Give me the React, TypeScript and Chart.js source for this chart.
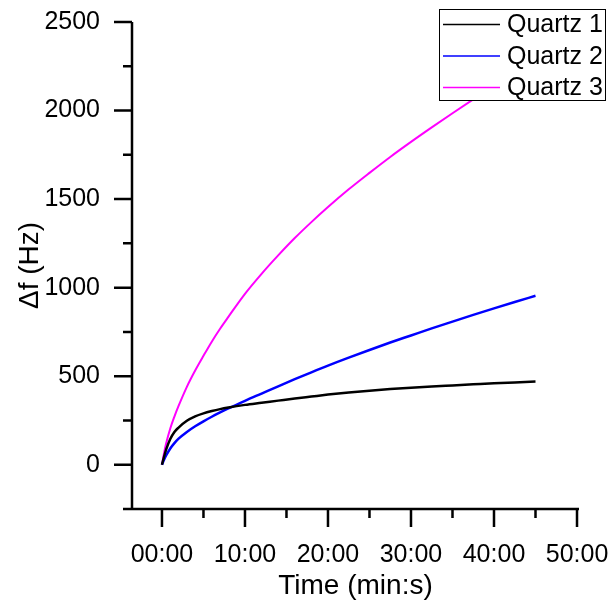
import React, { useEffect, useRef } from "react";
import { Chart, registerables } from "chart.js";

Chart.register(...registerables);

// Elapsed time in minutes
const timeMin = [0, 0.25, 0.5, 1, 1.5, 2, 3, 4, 5, 6, 7, 8, 10, 12, 14, 16, 18, 20, 22.5, 25, 27.5, 30, 32.5, 35, 37.5, 40, 42.5, 45];
// Frequency shift (Hz) for each crystal
const quartz1 = [0, 45, 85, 145, 185, 210, 248, 273, 290, 303, 314, 323, 338, 350, 362, 374, 385, 396, 408, 418, 427, 435, 442, 448, 454, 460, 465, 470];
const quartz2 = [0, 28, 52, 92, 122, 147, 185, 217, 245, 271, 295, 318, 361, 402, 443, 483, 522, 560, 605, 648, 690, 730, 770, 808, 846, 883, 919, 954];
const quartz3 = [0, 65, 120, 205, 272, 332, 440, 532, 615, 695, 768, 835, 965, 1078, 1182, 1280, 1370, 1455, 1555, 1648, 1738, 1823, 1905, 1985, 2063, 2140, 2215, 2288];

const seriesNames = ["Quartz 1", "Quartz 2", "Quartz 3"];
const seriesColors = ["#000000", "#0000ff", "#ff00ff"];

const xMajorTicks = [0, 10, 20, 30, 40, 50];
const xMinorTicks = [5, 15, 25, 35, 45];
const yMajorTicks = [0, 500, 1000, 1500, 2000, 2500];
const yMinorTicks = [-250, 250, 750, 1250, 1750, 2250];

const FONT = "'Liberation Sans', Arial, Helvetica, sans-serif";

const fmtTime = (v: number) => `${String(Math.round(v)).padStart(2, "0")}:00`;

// Left/bottom axes with outward major and minor ticks, plus a boxed legend
const axesPlugin = {
  id: "outwardAxes",
  beforeDatasetsDraw(chart: any) {
    const { ctx, chartArea, scales } = chart;
    const xs = scales.x;
    const ys = scales.y;
    const axisX = chartArea.left;
    const axisY = chartArea.bottom;
    ctx.save();
    ctx.strokeStyle = "#000";
    ctx.lineWidth = 2.5;
    ctx.lineCap = "butt";
    ctx.beginPath();
    ctx.moveTo(axisX, chartArea.top);
    ctx.lineTo(axisX, axisY + 1.25);
    ctx.moveTo(axisX - 1.25, axisY);
    ctx.lineTo(chartArea.right, axisY);
    for (const v of yMajorTicks) {
      const p = ys.getPixelForValue(v);
      ctx.moveTo(axisX, p);
      ctx.lineTo(axisX - 18, p);
    }
    for (const v of yMinorTicks) {
      const p = ys.getPixelForValue(v);
      ctx.moveTo(axisX, p);
      ctx.lineTo(axisX - 9, p);
    }
    for (const v of xMajorTicks) {
      const p = xs.getPixelForValue(v);
      ctx.moveTo(p, axisY);
      ctx.lineTo(p, axisY + 18);
    }
    for (const v of xMinorTicks) {
      const p = xs.getPixelForValue(v);
      ctx.moveTo(p, axisY);
      ctx.lineTo(p, axisY + 9);
    }
    ctx.stroke();
    ctx.restore();
  },
  afterDatasetsDraw(chart: any) {
    const { ctx } = chart;
    const box = { x: 439.5, y: 9.5, w: 166, h: 91 };
    const rows = [24.5, 56, 87.5];
    ctx.save();
    ctx.fillStyle = "#fff";
    ctx.fillRect(box.x, box.y, box.w, box.h);
    ctx.strokeStyle = "#000";
    ctx.lineWidth = 1;
    ctx.strokeRect(box.x, box.y, box.w, box.h);
    chart.data.datasets.forEach((ds: any, i: number) => {
      const y = rows[i];
      ctx.strokeStyle = ds.borderColor;
      ctx.lineWidth = 1.5;
      ctx.beginPath();
      ctx.moveTo(443, y);
      ctx.lineTo(500, y);
      ctx.stroke();
      ctx.fillStyle = "#000";
      ctx.font = `25px ${FONT}`;
      ctx.textAlign = "left";
      ctx.textBaseline = "middle";
      ctx.fillText(ds.label, 507, y + 1);
    });
    ctx.restore();
  },
};

export default function App() {
  const canvasRef = useRef<HTMLCanvasElement>(null);

  useEffect(() => {
    const canvas = canvasRef.current;
    if (!canvas) return;
    const series = [quartz1, quartz2, quartz3];
    const chart = new Chart(canvas, {
      type: "line",
      data: {
        datasets: series.map((vals, i) => ({
          label: seriesNames[i],
          data: timeMin.map((t, j) => ({ x: t, y: vals[j] })),
          borderColor: seriesColors[i],
          backgroundColor: seriesColors[i],
          borderWidth: i === 2 ? 2 : 2.5,
          pointRadius: 0,
          cubicInterpolationMode: "monotone" as const,
          fill: false,
        })),
      },
      options: {
        responsive: false,
        animation: false,
        devicePixelRatio: 1,
        layout: { padding: { left: 0, right: 31, top: 22, bottom: 0 } },
        plugins: {
          legend: { display: false },
          tooltip: { enabled: false },
        },
        scales: {
          x: {
            type: "linear",
            min: -3.61,
            max: 50.24,
            afterBuildTicks: (s: any) => {
              s.ticks = xMajorTicks.map((v) => ({ value: v }));
            },
            afterFit: (s: any) => {
              s.height = 94;
              s.paddingLeft = 0;
              s.paddingRight = 0;
            },
            grid: { display: false, drawTicks: false },
            border: { display: false },
            ticks: {
              padding: 31,
              maxRotation: 0,
              autoSkip: false,
              color: "#000",
              font: { family: FONT, size: 25 },
              callback: (v: any) => fmtTime(Number(v)),
            },
            title: {
              display: true,
              text: "Time (min:s)",
              color: "#000",
              font: { family: FONT, size: 28 },
              padding: { top: 0, bottom: 0 },
            },
          },
          y: {
            type: "linear",
            min: -250,
            max: 2500,
            afterBuildTicks: (s: any) => {
              s.ticks = yMajorTicks.map((v) => ({ value: v }));
            },
            afterFit: (s: any) => {
              s.width = 132;
              s.paddingTop = 0;
              s.paddingBottom = 0;
            },
            grid: { display: false, drawTicks: false },
            border: { display: false },
            ticks: {
              padding: 32,
              color: "#000",
              font: { family: FONT, size: 25 },
              callback: (v: any) => String(v),
            },
            title: {
              display: true,
              text: "Δf (Hz)",
              color: "#000",
              font: { family: FONT, size: 28 },
              padding: { top: 13, bottom: 0 },
            },
          },
        },
      },
      plugins: [axesPlugin],
    });
    return () => chart.destroy();
  }, []);

  return (
    <div style={{ position: "absolute", left: 0, top: 0, width: 610, height: 603, background: "#fff" }}>
      <canvas ref={canvasRef} width={610} height={603} style={{ display: "block", width: 610, height: 603 }} />
    </div>
  );
}
